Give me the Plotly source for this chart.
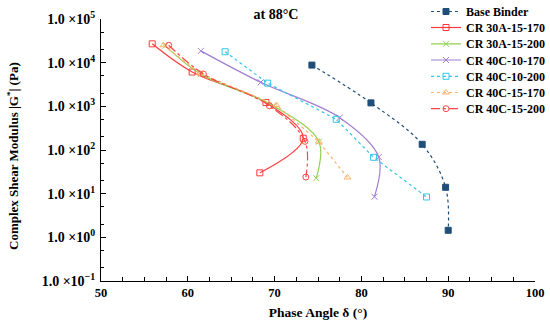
import plotly.graph_objects as go

names = ["Base Binder", "CR 30A-15-170", "CR 30A-15-200", "CR 40C-10-170",
         "CR 40C-10-200", "CR 40C-15-170", "CR 40C-15-200"]

phase = [
    [74.3, 81.1, 87.0, 89.7, 90.0],
    [55.9, 60.5, 69.0, 73.3, 68.3],
    [57.4, 61.5, 69.9, 75.1, 74.8],
    [61.5, 68.4, 77.5, 82.0, 81.5],
    [64.3, 69.2, 77.1, 81.4, 87.5],
    [57.2, 61.4, 70.2, 75.1, 78.4],
    [57.8, 61.8, 69.4, 73.5, 73.6],
]
modulus = [
    [8800, 1200, 135, 14.0, 1.45],
    [27000, 6100, 1220, 186, 30],
    [24500, 5400, 1020, 155, 22.6],
    [18600, 3550, 550, 69, 8.5],
    [17800, 3400, 505, 68, 8.4],
    [25000, 5700, 1070, 155, 23.5],
    [25000, 5500, 1030, 158, 24],
]

colors = ["#1f4e79", "#ff3b3b", "#92d050", "#a07ed0", "#33c6e8", "#ffb36b", "#ff4545"]
dashes = ["dot", "solid", "solid", "solid", "dot", "dot", "dashdot"]
symbols = ["square", "square-open", "x-thin-open", "x-thin-open",
           "square-open", "triangle-up-open", "circle-open"]
shapes = ["spline", "spline", "spline", "spline", "linear", "linear", "spline"]

y_tickvals = [0.1, 1, 10, 100, 1000, 10000, 100000]
y_ticktext = ["1.0 ×10<sup>−1</sup>", "1.0 ×10<sup>0</sup>", "1.0 ×10<sup>1</sup>",
              "1.0 ×10<sup>2</sup>", "1.0 ×10<sup>3</sup>", "1.0 ×10<sup>4</sup>",
              "1.0 ×10<sup>5</sup>"]
x_tickvals = [50, 60, 70, 80, 90, 100]

font = "Liberation Serif"
H = 326
plot_top, plot_bot = 19, 281
legend_px = [11.5, 27.5, 43.8, 60, 76.3, 92.5, 108.7]

fig = go.Figure()
layout_legends = {}
for i, n in enumerate(names):
    key = "legend" if i == 0 else "legend%d" % (i + 1)
    fig.add_trace(go.Scatter(
        x=phase[i], y=modulus[i], name="<b>" + n + "</b>", mode="lines+markers",
        line=dict(color=colors[i], width=1.2, dash=dashes[i], shape=shapes[i], smoothing=1),
        marker=dict(symbol=symbols[i], size=6, color=colors[i],
                    line=dict(color=colors[i], width=1)),
        legend=key,
    ))
    layout_legends[key] = dict(
        x=(426 - 101) / 434, y=(plot_bot - legend_px[i]) / (plot_bot - plot_top),
        xanchor="left", yanchor="middle",
        font=dict(size=12, family=font, color="black"),
        bgcolor="rgba(0,0,0,0)", itemwidth=30,
    )

fig.update_layout(
    width=550, height=H,
    margin=dict(l=101, r=15, t=plot_top, b=H - plot_bot, autoexpand=False),
    paper_bgcolor="white", plot_bgcolor="white",
    font=dict(family=font, size=12, color="black"),
    title=dict(text="<b>at 88°C</b>", x=276 / 550, xanchor="center", y=1 - 14 / H,
               yanchor="middle", font=dict(size=14, family=font)),
    showlegend=True,
    annotations=[dict(
        text="<b>Complex Shear Modulus |G<sup>*</sup>| (Pa)</b>",
        textangle=-90, xref="paper", yref="paper",
        x=-(101 - 13) / 434, y=(plot_bot - 156) / (plot_bot - plot_top),
        xanchor="center", yanchor="middle", showarrow=False,
        font=dict(size=13, family=font, color="black"),
    )],
    **layout_legends,
)

fig.update_xaxes(
    range=[50, 100], tickvals=x_tickvals,
    ticktext=["<b>%d</b>" % v for v in x_tickvals],
    showline=True, linecolor="black", linewidth=1.2, mirror=False,
    ticks="inside", ticklen=5, tickcolor="black", showgrid=False, zeroline=False,
    minor=dict(dtick=2.5, ticks="inside", ticklen=4, tickcolor="black", showgrid=False),
    title=dict(text="<b>Phase Angle δ (°)</b>", font=dict(size=13.5, family=font), standoff=8),
    tickfont=dict(size=12.5, family=font),
)
fig.update_yaxes(
    type="log", range=[-1, 5], tickvals=y_tickvals,
    ticktext=["<b>" + t + "</b>" for t in y_ticktext],
    showline=True, linecolor="black", linewidth=1.2,
    ticks="inside", ticklen=5, tickcolor="black", showgrid=False, zeroline=False,
    minor=dict(ticks="inside", ticklen=3, tickcolor="black", showgrid=False),
    tickfont=dict(size=14, family=font),
    ticklabelstandoff=2,
)

fig.write_html("out.html", post_script="document.body.style.margin='0';",
               config={"displayModeBar": False})
